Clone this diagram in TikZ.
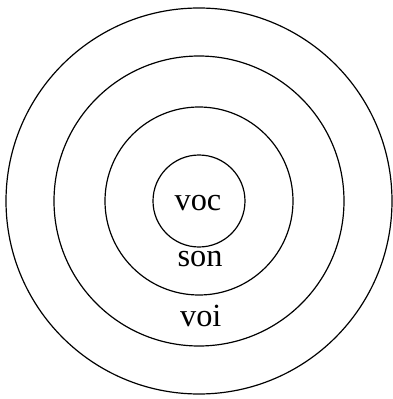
\documentclass[tikz,border=0pt]{standalone}
\usepackage{fontspec}
\setmainfont{Liberation Serif}
\begin{document}
\begin{tikzpicture}[
    ring/.style={draw, line width=0.85pt},
    word/.style={anchor=base, inner sep=0pt, font=\fontsize{23}{27}\selectfont},
]
\useasboundingbox (0,0) rectangle (9.8,9.975);

% common centre of the rings
\coordinate (c) at (4.975,4.95);

% rings, outermost first
\draw[ring] (c) circle (4.825);
\draw[ring] (c) circle (3.625);
\draw[ring] (c) circle (2.35);
\draw[ring] (c) circle (1.15);

% labels
\node[word] (voc) at (4.95,4.71) {voc};
\node[word] (son) at (5.0,3.32) {son};
\node[word] (voi) at (5.02,1.82) {voi};

\end{tikzpicture}
\end{document}
